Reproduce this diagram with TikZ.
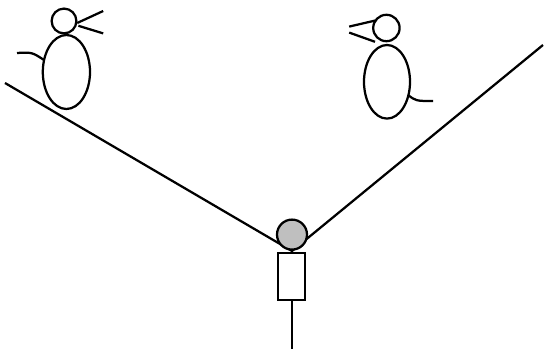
\documentclass[tikz,border=0pt]{standalone}
\begin{document}
\begin{tikzpicture}[line width=1.6pt]

\useasboundingbox (0,0) rectangle (13.6,8.725);

% Pente
\coordinate (creux) at (7.3,2.45);
\draw (0.125,6.65) -- (creux) -- (13.575,7.6);

% Oiseau gauche
\draw (1.6,8.2) circle (0.31);
\draw (1.66,6.925) ellipse (0.59 and 0.925);
\draw (1.93,8.15) -- (2.58,8.45);
\draw (1.96,8.08) -- (2.58,7.89);
\draw (0.425,7.4) .. controls (0.8,7.42) .. (1.1,7.225);

% Oiseau droit
\draw (9.66,8.025) circle (0.33);
\draw (9.675,6.68) ellipse (0.575 and 0.92);
\draw (8.73,8.06) -- (9.375,8.21);
\draw (8.73,7.91) -- (9.375,7.68);
\draw (10.2,6.35) .. controls (10.4,6.2) .. (10.825,6.2);

% Personnage
\draw[fill=lightgray] (7.3,2.86) circle (0.375);
\draw (6.95,1.225) rectangle (7.625,2.4);
\draw (7.3,1.225) -- (7.3,0);

\end{tikzpicture}
\end{document}
